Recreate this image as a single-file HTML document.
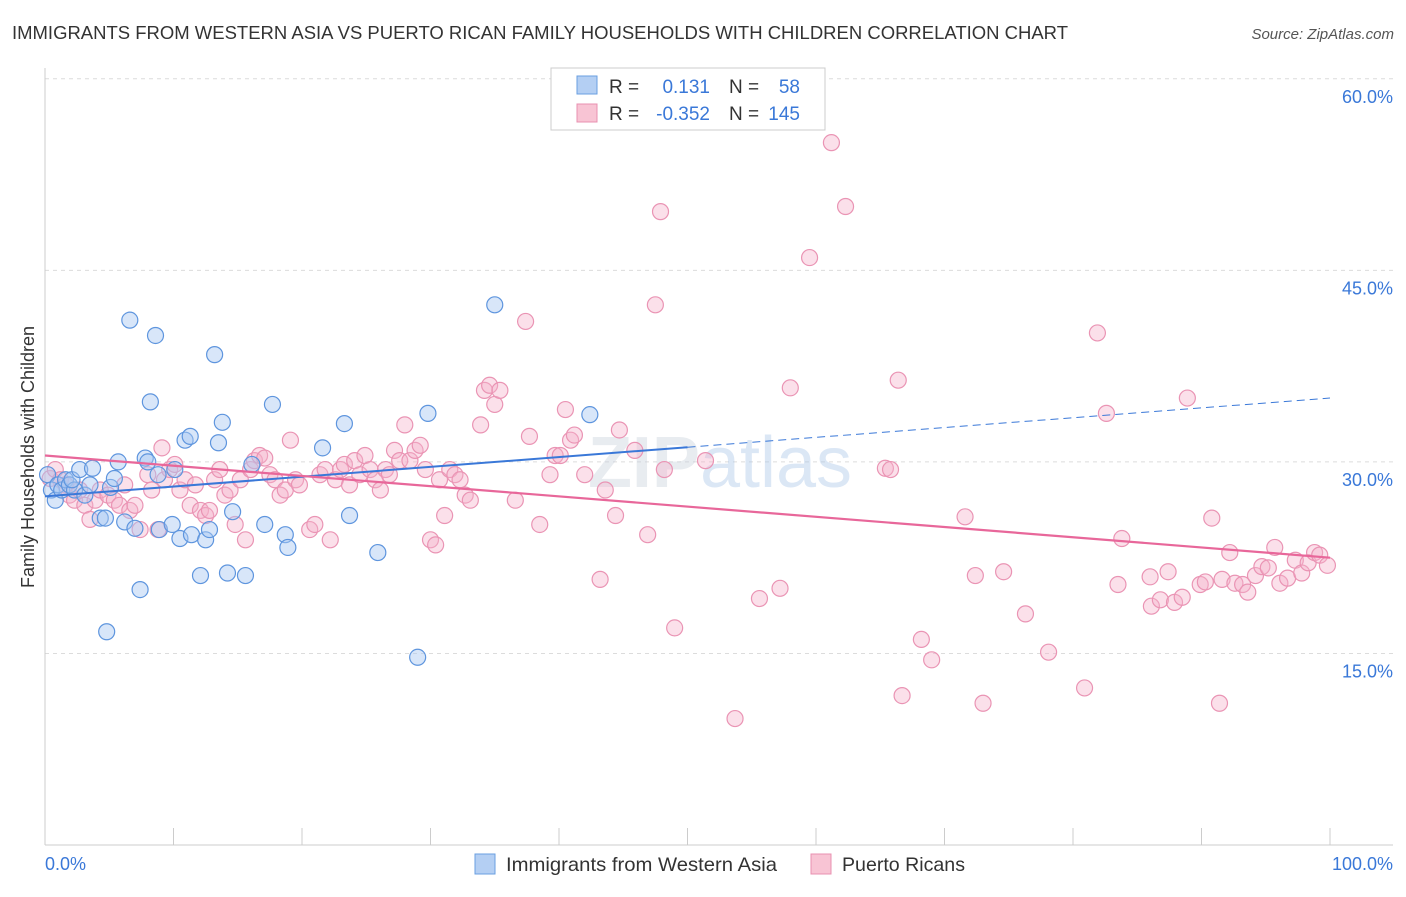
<!DOCTYPE html>
<html><head><meta charset="utf-8"><style>
body{margin:0;background:#fff;font-family:"Liberation Sans",sans-serif;}
svg text{font-family:"Liberation Sans",sans-serif;}
</style></head><body>
<svg id="chart" width="1406" height="892">
<text x="12" y="39" font-size="18.5" fill="#333" textLength="1056" lengthAdjust="spacingAndGlyphs">IMMIGRANTS FROM WESTERN ASIA VS PUERTO RICAN FAMILY HOUSEHOLDS WITH CHILDREN CORRELATION CHART</text>
<text x="1394" y="39" font-size="15" fill="#555" font-style="italic" text-anchor="end">Source: ZipAtlas.com</text>
<text x="34" y="457" font-size="18" fill="#333" text-anchor="middle" transform="rotate(-90 34 457)">Family Households with Children</text>
<g id="grid"></g>
<g id="yticks"></g>
<g id="xaxis"></g>
<text x="720" y="487" font-size="72" fill="#c8d0dc" opacity="0.4" text-anchor="middle" font-weight="bold">ZIP<tspan font-weight="normal" fill="#a8c4e8">atlas</tspan></text>
<g id="pinkpts"></g>
<g id="bluepts"></g>
<g id="trends"></g>
<g>
<rect x="551" y="68" width="274" height="62" fill="#fff" stroke="#ccc"/>
<rect x="577" y="76" width="20" height="18" fill="#b4cff3" stroke="#6a9fe0"/>
<rect x="577" y="104" width="20" height="18" fill="#f8c4d4" stroke="#e890b0"/>
<text x="609" y="93" font-size="19" fill="#333">R =</text>
<text x="710" y="93" font-size="19" fill="#3a78d8" text-anchor="end">0.131</text>
<text x="729" y="93" font-size="19" fill="#333">N =</text>
<text x="800" y="93" font-size="19" fill="#3a78d8" text-anchor="end">58</text>
<text x="609" y="120" font-size="19" fill="#333">R =</text>
<text x="710" y="120" font-size="19" fill="#3a78d8" text-anchor="end">-0.352</text>
<text x="729" y="120" font-size="19" fill="#333">N =</text>
<text x="800" y="120" font-size="19" fill="#3a78d8" text-anchor="end">145</text>
</g>
<g>
<rect x="475" y="854" width="20" height="20" fill="#b4cff3" stroke="#6a9fe0"/>
<text x="506" y="871" font-size="19.5" fill="#333" textLength="271" lengthAdjust="spacingAndGlyphs">Immigrants from Western Asia</text>
<rect x="811" y="854" width="20" height="20" fill="#f8c4d4" stroke="#e890b0"/>
<text x="842" y="871" font-size="19.5" fill="#333" textLength="123" lengthAdjust="spacingAndGlyphs">Puerto Ricans</text>
</g>
</svg>
<script>
const yTicks=[15,30,45,60];
const xTickLabels=["0.0%","100.0%"];
const blueX=[0.2,0.5,0.8,1.0,1.3,1.6,1.9,2.3,2.1,2.7,3.1,3.5,3.7,4.3,4.7,4.8,5.1,5.4,5.7,6.2,6.6,7.0,7.4,7.8,8.0,8.2,8.6,8.8,8.9,9.9,10.1,10.5,10.9,11.3,11.4,12.1,12.5,12.8,13.2,13.5,13.8,14.2,14.6,15.6,16.1,17.1,17.7,18.7,18.9,21.6,23.3,23.7,25.9,29.0,29.8,35.0,42.4];
const blueY=[29.0,27.8,27.0,28.2,27.8,28.6,28.2,27.8,28.6,29.4,27.4,28.2,29.5,25.6,25.6,16.7,28.0,28.7,30.0,25.3,41.1,24.8,20.0,30.3,30.0,34.7,39.9,29.0,24.7,25.1,29.4,24.0,31.7,32.0,24.3,21.1,23.9,24.7,38.4,31.5,33.1,21.3,26.1,21.1,29.8,25.1,34.5,24.3,23.3,31.1,33.0,25.8,22.9,14.7,33.8,42.3,33.7];
const pinkX=[0.4,0.8,1.2,1.6,1.9,2.3,2.7,3.1,3.5,3.9,4.3,4.9,5.4,5.8,6.2,6.6,7.0,7.4,8.0,8.3,8.8,9.1,9.3,9.7,10.1,10.5,10.9,11.3,11.7,12.1,12.5,12.8,13.2,13.6,14.0,14.4,14.8,15.2,15.6,16.0,16.3,16.7,17.1,17.5,17.9,18.3,18.7,19.1,19.5,19.8,20.6,21.0,21.4,21.8,22.2,22.6,23.0,23.3,23.7,24.1,24.5,24.9,25.3,25.7,26.1,26.5,26.8,27.2,27.6,28.0,28.4,28.8,29.2,29.6,30.0,30.4,30.7,31.1,31.5,31.9,32.3,32.7,33.1,33.9,34.2,34.6,35.0,35.4,36.6,37.4,37.7,38.5,39.3,39.7,40.1,40.5,40.9,41.2,42.0,43.2,43.6,44.4,44.7,45.9,46.9,47.5,47.9,48.2,49.0,51.4,53.7,55.6,57.2,58.0,59.5,61.2,62.3,65.4,65.8,66.4,66.7,68.2,69.0,71.6,72.4,73.0,74.6,76.3,78.1,80.9,81.9,82.6,83.5,83.8,86.0,86.1,86.8,87.4,87.9,88.5,88.9,89.9,90.3,90.8,91.4,91.6,92.2,92.6,93.2,93.6,94.2,94.7,95.2,95.7,96.1,96.7,97.3,97.8,98.3,98.8,99.2,99.8];
const pinkY=[28.7,29.4,28.6,28.2,27.4,27.0,27.8,26.6,25.5,27.0,27.8,27.4,27.0,26.6,28.2,26.2,26.6,24.7,29.0,27.8,24.7,31.1,28.6,29.4,29.8,27.8,28.6,26.6,28.2,26.2,25.8,26.2,28.6,29.4,27.4,27.8,25.1,28.6,23.9,29.4,30.1,30.5,30.3,29.0,28.6,27.4,27.8,31.7,28.6,28.2,24.7,25.1,29.0,29.4,23.9,28.6,29.4,29.8,28.2,30.1,29.0,30.5,29.4,28.6,27.8,29.4,29.0,30.9,30.1,32.9,30.1,30.9,31.3,29.4,23.9,23.5,28.6,25.8,29.4,29.0,28.6,27.4,27.0,32.9,35.6,36.0,34.5,35.6,27.0,41.0,32.0,25.1,29.0,30.5,30.5,34.1,31.7,32.1,29.0,20.8,27.8,25.8,32.5,30.9,24.3,42.3,49.6,29.4,17.0,30.1,9.9,19.3,20.1,35.8,46.0,55.0,50.0,29.5,29.4,36.4,11.7,16.1,14.5,25.7,21.1,11.1,21.4,18.1,15.1,12.3,40.1,33.8,20.4,24.0,21.0,18.7,19.2,21.4,19.0,19.4,35.0,20.4,20.6,25.6,11.1,20.8,22.9,20.5,20.4,19.8,21.1,21.8,21.7,23.3,20.5,20.9,22.3,21.3,22.1,22.9,22.7,21.9];
const blueTrend=[27.3,35.0];
const pinkTrend=[30.5,22.5];
const blueSolidEnd=50;

const NS="http://www.w3.org/2000/svg";
const X0=45,X1=1330,YB=845,YPER=12.77;
function xs(v){return X0+(X1-X0)*v/100;}
function ys(v){return YB-v*YPER;}
function mk(tag,attrs,parent){const e=document.createElementNS(NS,tag);for(const k in attrs)e.setAttribute(k,attrs[k]);parent.appendChild(e);return e;}
const grid=document.getElementById('grid'),yt=document.getElementById('yticks'),xa=document.getElementById('xaxis');
yTicks.forEach(t=>{
 const l=mk('line',{x1:X0,x2:1393,y1:ys(t),y2:ys(t),stroke:'#dcdcdc','stroke-dasharray':'4,4'},grid);
 
 
 const tx=mk('text',{x:1393,y:ys(t)+24,'font-size':18,fill:'#3a78d8','text-anchor':'end'},yt);
 tx.textContent=t.toFixed(1)+'%';
 
 
});
mk('line',{x1:X0,x2:X0,y1:68,y2:YB,stroke:'#ccc'},xa);
mk('line',{x1:X0,x2:1393,y1:YB,y2:YB,stroke:'#ccc'},xa);
for(let i=0;i<=10;i++){mk('line',{x1:xs(i*10),x2:xs(i*10),y1:828,y2:YB,stroke:'#ccc'},xa);}
const xl0=mk('text',{x:45,y:870,'font-size':18,fill:'#3a78d8'},xa);xl0.textContent=xTickLabels[0];


const xl1=mk('text',{x:1393,y:870,'font-size':18,fill:'#3a78d8','text-anchor':'end'},xa);xl1.textContent=xTickLabels[1];


const pp=document.getElementById('pinkpts');
pinkX.forEach((x,i)=>{const c=mk('circle',{cx:xs(x),cy:ys(pinkY[i]),r:8,fill:'rgba(246,178,202,0.4)',stroke:'#ea94b4','stroke-width':1.2},pp);
 
 });
const bp=document.getElementById('bluepts');
blueX.forEach((x,i)=>{const c=mk('circle',{cx:xs(x),cy:ys(blueY[i]),r:8,fill:'rgba(168,200,242,0.45)',stroke:'#5e95de','stroke-width':1.2},bp);
 
 });
const tr=document.getElementById('trends');
function tv(t,x){return t[0]+(t[1]-t[0])*x/100;}
const b1=mk('line',{x1:xs(0),y1:ys(tv(blueTrend,0)),x2:xs(blueSolidEnd),y2:ys(tv(blueTrend,blueSolidEnd)),stroke:'#3a78d8','stroke-width':2},tr);


const b2=mk('line',{x1:xs(blueSolidEnd),y1:ys(tv(blueTrend,blueSolidEnd)),x2:xs(100),y2:ys(tv(blueTrend,100)),stroke:'#3a78d8','stroke-width':1,'stroke-dasharray':'8,5'},tr);


const p1=mk('line',{x1:xs(0),y1:ys(tv(pinkTrend,0)),x2:xs(100),y2:ys(tv(pinkTrend,100)),stroke:'#e8679a','stroke-width':2.2},tr);


</script>
</body></html>
